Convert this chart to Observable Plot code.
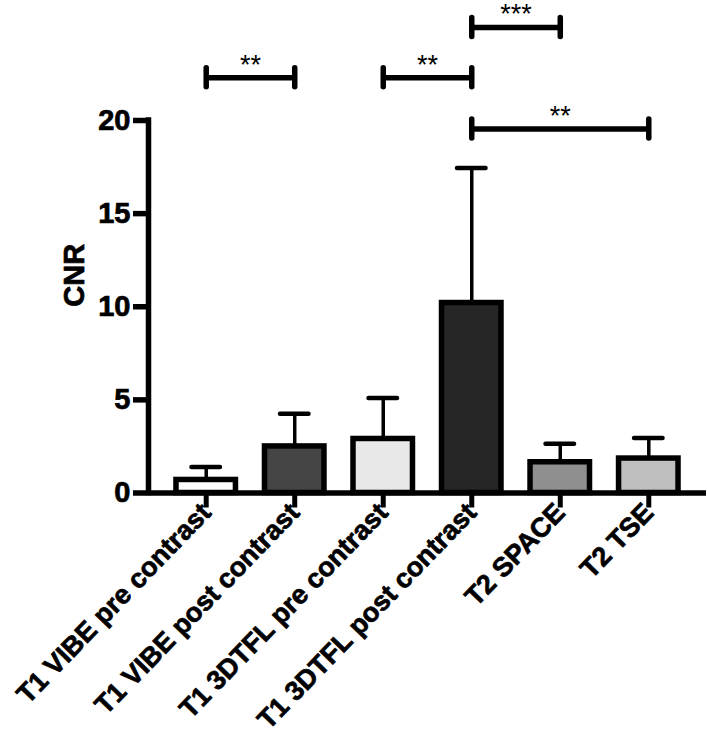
<!DOCTYPE html>
<html><head><meta charset="utf-8">
<script src="https://cdn.jsdelivr.net/npm/d3@7"></script>
<script src="https://cdn.jsdelivr.net/npm/@observablehq/plot@0.6"></script>
<style>
html,body{margin:0;padding:0;background:#fff}
svg{display:block}
g[aria-label$="tick label"]{stroke:#000;stroke-width:0.7px}
</style>
</head><body><div id="chart"></div>
<script>
const categories = ["T1 VIBE pre contrast", "T1 VIBE post contrast", "T1 3DTFL pre contrast", "T1 3DTFL post contrast", "T2 SPACE", "T2 TSE"];
const means = [0.7, 2.5, 2.9, 10.2, 1.65, 1.85];
const upperErrors = [1.4, 4.25, 5.1, 17.45, 2.65, 2.95];
const fills = ["#ffffff", "#454545", "#e8e8e8", "#262626", "#8f8f8f", "#bfbfbf"];
const bracketFrom = ["T1 VIBE pre contrast", "T1 3DTFL pre contrast", "T1 3DTFL post contrast", "T1 3DTFL post contrast"];
const bracketTo = ["T1 VIBE post contrast", "T1 3DTFL post contrast", "T2 SPACE", "T2 TSE"];
const bracketLevels = [22.3, 22.3, 25.0, 19.55];
const bracketLabels = ["**", "**", "***", "**"];
const yTicks = [0, 5, 10, 15, 20];
const yLabel = "CNR";

const bars = categories.map((c, i) => ({i, cat: c, mean: means[i], upper: upperErrors[i], fill: fills[i]}));
const idx = c => categories.indexOf(c);
const brackets = bracketFrom.map((f, k) => ({from: idx(f), to: idx(bracketTo[k]), level: bracketLevels[k], label: bracketLabels[k]}));
const ends = brackets.flatMap(b => [{x: b.from, level: b.level}, {x: b.to, level: b.level}]);

const halfBar = 0.336, halfCap = 0.161, pad = 0.652;
const xDomain = [-pad, categories.length - 1 + pad];

const chart = Plot.plot({
  width: 707,
  height: 748,
  marginLeft: 148,
  marginRight: 1,
  marginTop: 120,
  marginBottom: 255.5,
  style: {fontFamily: "'Liberation Sans', Arial, Helvetica, sans-serif", fontWeight: "bold", background: "#fff", overflow: "visible"},
  x: {type: "linear", domain: xDomain},
  y: {domain: [0, 20]},
  color: {type: "identity"},
  marks: [
    Plot.ruleX(bars, {x: "i", y1: "mean", y2: "upper", stroke: "black", strokeWidth: 3.5}),
    Plot.ruleY(bars, {y: "upper", x1: d => d.i - halfCap, x2: d => d.i + halfCap, stroke: "black", strokeWidth: 4.5, strokeLinecap: "round"}),
    Plot.rectY(bars, {x1: d => d.i - halfBar, x2: d => d.i + halfBar, y1: 0, y2: "mean", fill: "fill", stroke: "black", strokeWidth: 5.5}),
    Plot.ruleY([0], {stroke: "black", strokeWidth: 5.5}),
    Plot.ruleX([xDomain[0]], {y1: 0, y2: 20, stroke: "black", strokeWidth: 5.5, strokeLinecap: "square"}),
    Plot.axisY({ticks: yTicks, tickSize: 15, tickPadding: 3, fontSize: 29, strokeWidth: 5.5, label: null}),
    Plot.axisX({ticks: d3.range(categories.length), tickFormat: i => categories[i], tickSize: 15, tickPadding: 0, tickRotate: -46, fontSize: 27, strokeWidth: 5, label: null}),
    Plot.text([yLabel], {frameAnchor: "left", dx: -74, rotate: -90, fontSize: 29, fontWeight: "bold", fill: "black", stroke: "black", strokeWidth: 0.7}),
    Plot.ruleY(brackets, {y: "level", x1: "from", x2: "to", stroke: "black", strokeWidth: 5.5}),
    Plot.ruleX(ends, {x: "x", y1: "level", y2: "level", insetTop: -9.5, insetBottom: -9.5, stroke: "black", strokeWidth: 5.5, strokeLinecap: "round"}),
    Plot.text(brackets, {x: d => (d.from + d.to) / 2, y: "level", text: "label", lineAnchor: "bottom", dy: -4, fontSize: 27, fontWeight: "normal"})
  ]
});
document.getElementById("chart").appendChild(chart);
</script>
</body></html>
